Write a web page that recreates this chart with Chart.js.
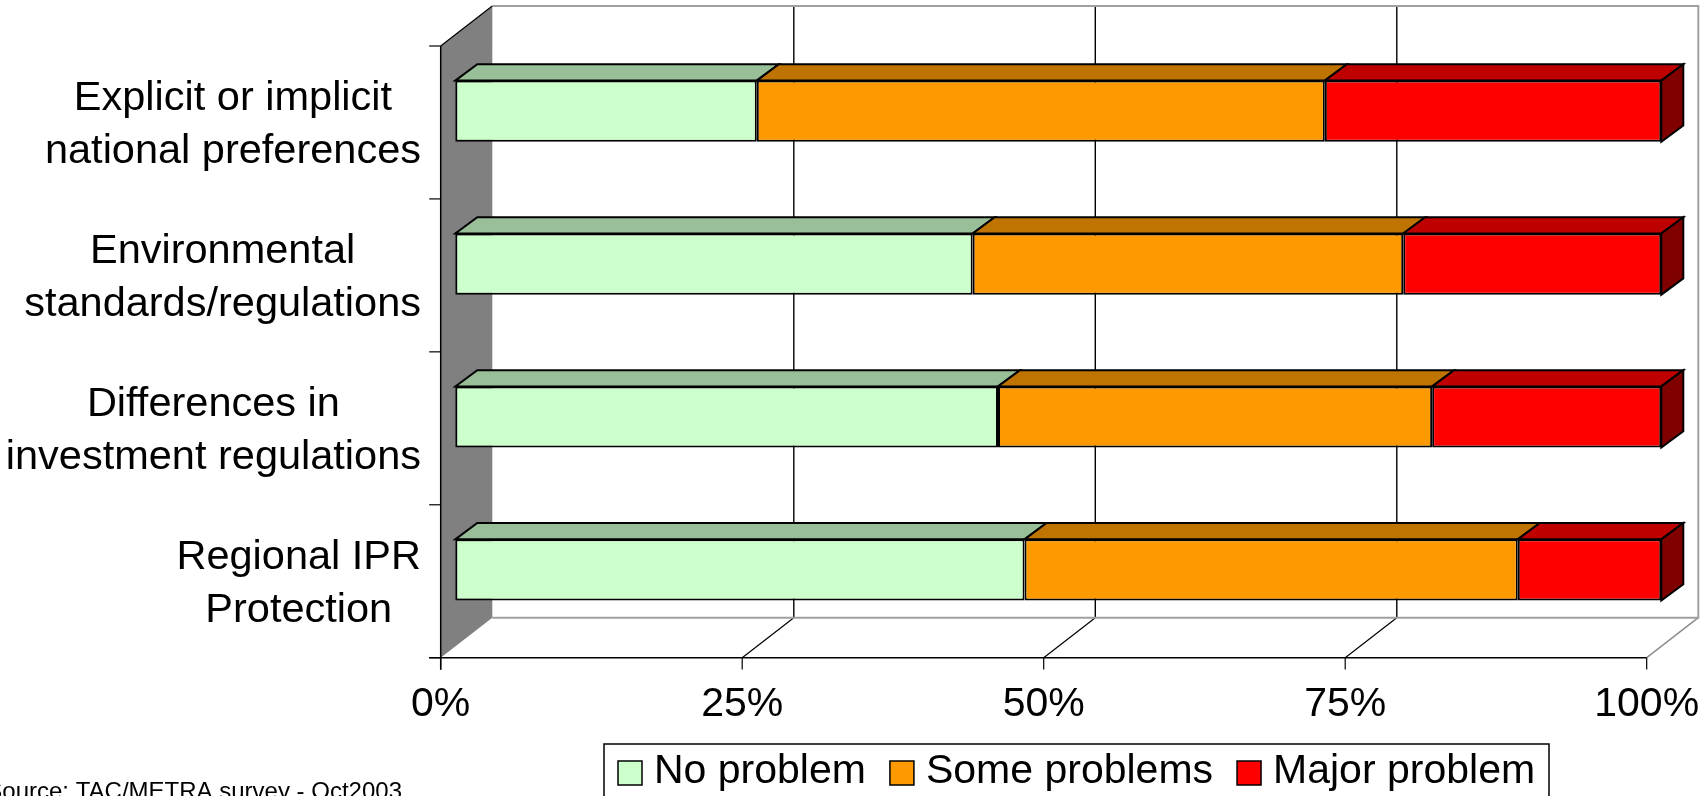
<!DOCTYPE html>
<html>
<head>
<meta charset="utf-8">
<script src="https://cdn.jsdelivr.net/npm/chart.js@4/dist/chart.umd.min.js"></script>
<style>
  html, body { margin: 0; padding: 0; background: #fff; overflow: hidden; }
  canvas { display: block; }
</style>
</head>
<body>
<canvas id="c" width="1708" height="796"></canvas>
<script>
// Survey answers per trade barrier, share of respondents (%)
const categories = [
  ['Explicit or implicit', 'national preferences'],
  ['Environmental', 'standards/regulations'],
  ['Differences in', 'investment regulations'],
  ['Regional IPR', 'Protection']
];
const noProblem    = [25.0, 42.9, 45.0, 47.2];
const someProblems = [47.1, 35.7, 36.0, 40.9];
const majorProblem = [27.9, 21.4, 19.0, 11.9];
const seriesNames  = ['No problem', 'Some problems', 'Major problem'];
const tickLabels   = ['0%', '25%', '50%', '75%', '100%'];
const sourceNote   = 'Source: TAC/METRA survey - Oct2003';

const FONT = "'Liberation Sans', Arial, Helvetica, sans-serif";
const frontColors = ['#CCFFCC', '#FF9900', '#FF0000'];
const topColors   = ['#99BF99', '#BF7300', '#BF0000'];
const sideColors  = ['#668066', '#7F4C00', '#800000'];

// 3-D projection: wall depth, and where the bars sit inside that depth
const WALL = { dx: 51.6, dy: -40 };
const BAR_FRONT = { dx: 14.6, dy: -11.3 };
const BAR_BACK  = { dx: 36.6, dy: -27.6 };

function line(ctx, x1, y1, x2, y2, color, w) {
  ctx.beginPath();
  ctx.moveTo(x1, y1);
  ctx.lineTo(x2, y2);
  ctx.strokeStyle = color;
  ctx.lineWidth = w;
  ctx.stroke();
}

function poly(ctx, pts, fill, stroke, w) {
  ctx.beginPath();
  ctx.moveTo(pts[0][0], pts[0][1]);
  for (let i = 1; i < pts.length; i++) ctx.lineTo(pts[i][0], pts[i][1]);
  ctx.closePath();
  if (fill) { ctx.fillStyle = fill; ctx.fill(); }
  if (stroke) { ctx.strokeStyle = stroke; ctx.lineWidth = w; ctx.lineJoin = 'miter'; ctx.stroke(); }
}

const depthPlugin = {
  id: 'depth',
  beforeDatasetsDraw(chart) {
    const { ctx, chartArea: a, scales: { x } } = chart;
    const x0 = x.getPixelForValue(0);
    const x1 = x.getPixelForValue(100);
    const top = a.top, bot = a.bottom;
    const bx0 = x0 + WALL.dx, bx1 = x1 + WALL.dx;
    const btop = top + WALL.dy, bbot = bot + WALL.dy;

    ctx.save();
    // back wall
    ctx.fillStyle = '#fff';
    ctx.fillRect(bx0, btop, bx1 - bx0, bbot - btop);
    // gridlines on the back wall and their traces across the floor
    for (let v = 25; v < 100; v += 25) {
      const px = x.getPixelForValue(v);
      line(ctx, px + WALL.dx, btop, px + WALL.dx, bbot, '#000', 1.4);
      line(ctx, px, bot, px + WALL.dx, bbot, '#000', 1.2);
    }
    line(ctx, x1, bot, bx1, bbot, '#8c8c8c', 1.5);
    // wall outline
    ctx.beginPath();
    ctx.moveTo(bx0, btop); ctx.lineTo(bx1, btop); ctx.lineTo(bx1, bbot); ctx.lineTo(bx0, bbot);
    ctx.strokeStyle = '#a0a0a0'; ctx.lineWidth = 2; ctx.stroke();
    // side wall
    poly(ctx, [[x0, top], [bx0, btop], [bx0, bbot], [x0, bot]], '#808080');
    line(ctx, x0, top, bx0, btop, '#000', 1.2);
    ctx.restore();

    // bar tops and the end cap, then leave the context shifted for the front faces
    ctx.save();
    ctx.translate(BAR_FRONT.dx, BAR_FRONT.dy);
    const ddx = BAR_BACK.dx - BAR_FRONT.dx, ddy = BAR_BACK.dy - BAR_FRONT.dy;
    const n = chart.data.datasets.length;
    chart.data.datasets.forEach((ds, di) => {
      const meta = chart.getDatasetMeta(di);
      meta.data.forEach((el) => {
        const l = Math.min(el.base, el.x), r = Math.max(el.base, el.x);
        const t = el.y - el.height / 2, b = el.y + el.height / 2;
        poly(ctx, [[l, t], [r, t], [r + ddx, t + ddy], [l + ddx, t + ddy]], topColors[di], '#000', 2);
        if (di === n - 1) {
          poly(ctx, [[r, t], [r + ddx, t + ddy], [r + ddx, b + ddy], [r, b]], sideColors[di], '#000', 2);
        }
      });
    });
  },
  afterDatasetsDraw(chart) {
    chart.ctx.restore();
  },
  afterDraw(chart) {
    const { ctx, chartArea: a, scales: { x, y } } = chart;
    const x0 = x.getPixelForValue(0);
    const x1 = x.getPixelForValue(100);
    const top = a.top, bot = a.bottom;
    ctx.save();
    // axes and tick marks on the front plane
    line(ctx, x0, top, x0, bot + 12, '#000', 1.5);
    line(ctx, x0 - 11.5, bot, x1, bot, '#000', 1.5);
    tickLabels.forEach((_, i) => {
      const px = x.getPixelForValue(i * 25);
      line(ctx, px, bot, px, bot + 11.7, '#000', 1.2);
    });
    const band = (bot - top) / categories.length;
    for (let i = 0; i <= categories.length; i++) {
      const py = top + i * band;
      line(ctx, x0 - 11.5, py, x0, py, '#000', 1.2);
    }

    // category labels: lines centred on each other, block right-aligned
    ctx.fillStyle = '#000';
    ctx.textBaseline = 'alphabetic';
    ctx.textAlign = 'center';
    ctx.font = '41.5px ' + FONT;
    const rightEdge = 421;
    categories.forEach((lines, i) => {
      const cy = y.getPixelForValue(i);
      const block = Math.max(...lines.map(s => ctx.measureText(s).width));
      const cx = rightEdge - block / 2;
      lines.forEach((s, k) => {
        ctx.fillText(s, cx, cy - 12 + k * 53);
      });
    });

    // legend
    const lg = { left: 604, top: 744, right: 1549, bottom: 830 };
    ctx.strokeStyle = '#000';
    ctx.lineWidth = 1.5;
    ctx.strokeRect(lg.left, lg.top, lg.right - lg.left, lg.bottom - lg.top);
    ctx.font = '41px ' + FONT;
    ctx.textAlign = 'left';
    let lx = 618;
    const box = 24, boxTop = 761, baseLine = 783;
    seriesNames.forEach((name, i) => {
      ctx.fillStyle = frontColors[i];
      ctx.fillRect(lx, boxTop, box, box);
      ctx.strokeStyle = '#000';
      ctx.lineWidth = 1.5;
      ctx.strokeRect(lx, boxTop, box, box);
      const tx = lx + box + 12;
      ctx.fillStyle = '#000';
      ctx.fillText(name, tx, baseLine);
      lx = tx + ctx.measureText(name).width + 24;
    });

    // source note
    ctx.font = '24px ' + FONT;
    ctx.textAlign = 'right';
    ctx.fillStyle = '#000';
    ctx.fillText(sourceNote, 402, 799);
    ctx.restore();
  }
};

const mkSet = (label, data, i) => ({
  label, data,
  backgroundColor: frontColors[i],
  borderColor: '#000',
  borderWidth: 2,
  borderSkipped: false,
  clip: false
});

new Chart(document.getElementById('c'), {
  type: 'bar',
  data: {
    labels: categories,
    datasets: [
      mkSet(seriesNames[0], noProblem, 0),
      mkSet(seriesNames[1], someProblems, 1),
      mkSet(seriesNames[2], majorProblem, 2)
    ]
  },
  options: {
    indexAxis: 'y',
    responsive: false,
    animation: false,
    devicePixelRatio: 1,
    barPercentage: 0.4,
    categoryPercentage: 1,
    layout: { padding: { left: 440.7, right: 61.3, top: 46, bottom: 58.3 } },
    plugins: { legend: { display: false }, tooltip: { enabled: false } },
    scales: {
      x: {
        stacked: true,
        min: 0, max: 100,
        grid: { display: false, drawTicks: false },
        border: { display: false },
        afterFit: (s) => { s.height = 80; s.paddingLeft = 0; s.paddingRight = 0; },
        ticks: {
          stepSize: 25,
          padding: 22,
          color: '#000',
          font: { family: FONT, size: 41 },
          callback: (v) => tickLabels[Math.round(v / 25)]
        }
      },
      y: {
        stacked: true,
        display: false
      }
    }
  },
  plugins: [depthPlugin]
});
</script>
</body>
</html>
